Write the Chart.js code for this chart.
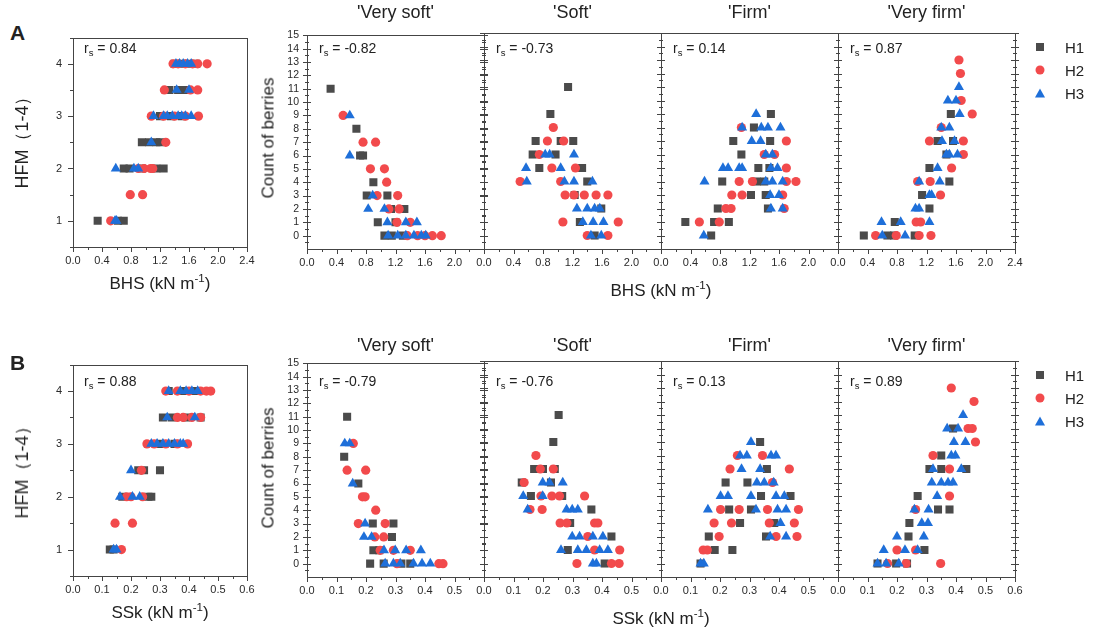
<!DOCTYPE html>
<html>
<head>
<meta charset="utf-8">
<script src="https://cdn.jsdelivr.net/npm/chart.js@4.4.1/dist/chart.umd.min.js"></script>
<style>
  body { margin: 0; background: #fff; }
  #fig { position: relative; width: 1100px; height: 632px; overflow: hidden;
         font-family: "Liberation Sans", Arial, sans-serif; color: #222; }
  .box { position: absolute; }
  .txt { position: absolute; white-space: nowrap; line-height: 1; }
  .txt sub { font-size: 0.68em; vertical-align: -0.3em; line-height: 0; }
  .txt sup { font-size: 0.68em; vertical-align: 0.55em; line-height: 0; }
  .mk { position: absolute; transform: translate(-50%, -50%); }
  .sq { width: 8px; height: 8px; background: #4b4b4b; }
  .ci { width: 9px; height: 9px; border-radius: 50%; background: #f24a4c; }
  .tr { width: 0; height: 0; border-left: 5px solid transparent; border-right: 5px solid transparent;
        border-bottom: 9px solid #1e6fd9; }
</style>
</head>
<body>
<div id="fig"></div>
<script>
// ---- axis ticks / labels ----
const bhsTicks = [0, 0.4, 0.8, 1.2, 1.6, 2.0, 2.4];
const sskTicks = [0, 0.1, 0.2, 0.3, 0.4, 0.5, 0.6];
const hfmTicks = [1, 2, 3, 4];
const countTicks = [0, 1, 2, 3, 4, 5, 6, 7, 8, 9, 10, 11, 12, 13, 14, 15];
const classNames = ["'Very soft'", "'Soft'", "'Firm'", "'Very firm'"];
const seriesNames = ['H1', 'H2', 'H3'];
const rsHfmBhs = '0.84';
const rsHfmSsk = '0.88';
const rsBhs = ['-0.82', '-0.73', '0.14', '0.87'];
const rsSsk = ['-0.79', '-0.76', '0.13', '0.89'];

// ---- HFM vs BHS ----
const hfmBhsH1 = [[0.34,1],[0.62,1],[0.7,1],[0.7,2],[0.78,2],[0.95,2],[1.15,2],[1.25,2],[0.95,2.5],[1.05,2.5],[1.15,2.5],[1.2,2.5],
  [1.2,3],[1.35,3],[1.5,3],[1.33,3.5],[1.45,3.5],[1.55,3.5],[1.4,4],[1.5,4],[1.6,4],[1.7,4]];
const hfmBhsH2 = [[0.52,1],[0.79,1.5],[0.96,1.5],[0.9,2],[0.98,2],[1.07,2],[1.1,2],[1.28,2.5],[1.08,3],[1.25,3],[1.4,3],[1.55,3],
  [1.73,3],[1.26,3.5],[1.62,3.5],[1.72,3.5],[1.38,4],[1.45,4],[1.55,4],[1.65,4],[1.72,4],[1.85,4]];
const hfmBhsH3 = [[0.58,1],[0.6,1],[0.59,2],[0.84,2],[0.9,2],[1.08,2.5],[1.11,3],[1.25,3],[1.3,3],[1.37,3],[1.45,3],[1.5,3],[1.55,3],
  [1.63,3],[1.43,3.5],[1.6,3.5],[1.42,4],[1.47,4],[1.52,4],[1.58,4],[1.63,4]];

// ---- count of berries vs BHS ----
const bhsVerySoftH1 = [[0.32,11],[0.67,8],[0.72,6],[0.76,6],[0.9,4],[0.81,3],[1.09,3],[1.14,2],[1.32,2],[0.96,1],[1.2,1],[1.05,0],[1.15,0],[1.3,0]];
const bhsVerySoftH2 = [[0.49,9],[0.76,7],[0.93,7],[0.86,5],[1.05,5],[1.08,4],[0.95,3],[1.23,3],[1.11,2],[1.25,2],[1.22,1],[1.4,1],
  [1.36,0],[1.5,0],[1.6,0],[1.7,0],[1.82,0]];
const bhsVerySoftH3 = [[0.58,9],[0.58,6],[0.89,3],[0.83,2],[1.05,2],[1.09,1],[1.34,1],[1.49,1],[1.1,0],[1.23,0],[1.34,0],[1.45,0],[1.55,0],[1.61,0]];

const bhsSoftH1 = [[1.14,11],[0.9,9],[0.7,7],[1.04,7],[1.21,7],[0.66,6],[0.97,6],[0.75,5],[1.33,5],[1.4,4],[1.23,3],[1.59,2],[1.3,1],[1.5,0]];
const bhsSoftH2 = [[0.94,8],[0.86,7],[1.08,7],[0.75,6],[0.92,5],[1.24,5],[0.49,4],[1.04,4],[1.1,3],[1.22,3],[1.36,3],[1.52,3],[1.68,3],
  [1.07,1],[1.82,1],[1.4,0],[1.68,0]];
const bhsSoftH3 = [[0.83,6],[0.89,6],[1.22,6],[0.57,5],[1.04,5],[0.58,4],[1.09,4],[1.22,4],[1.47,4],[1.26,2],[1.4,2],[1.5,2],[1.57,2],
  [1.34,1],[1.48,1],[1.62,1],[1.45,0],[1.59,0]];

const bhsFirmH1 = [[1.49,9],[1.26,8],[0.98,7],[1.48,7],[1.09,6],[1.32,5],[1.47,5],[0.83,4],[1.3,4],[1.4,4],[1.22,3],[1.42,3],[0.77,2],
  [1.45,2],[0.33,1],[0.72,1],[0.92,1],[0.68,0]];
const bhsFirmH2 = [[1.09,8],[1.7,7],[1.4,6],[1.54,6],[1.7,5],[1.06,4],[1.24,4],[1.7,4],[1.83,4],[0.96,3],[1.1,3],[1.65,3],[0.88,2],
  [0.95,2],[1.67,2],[0.52,1],[0.79,1]];
const bhsFirmH3 = [[1.29,9],[1.1,8],[1.36,8],[1.45,8],[1.62,8],[1.23,7],[1.35,7],[1.42,6],[1.51,6],[0.84,5],[0.91,5],[1.06,5],[1.1,5],
  [1.49,5],[1.58,5],[0.59,4],[1.42,4],[1.51,4],[1.65,4],[1.48,3],[1.6,3],[1.49,2],[1.65,2],[0.58,0]];

const bhsVeryFirmH1 = [[0.35,0],[0.67,0],[0.76,0],[1.04,0],[0.77,1],[1.24,2],[1.14,3],[1.51,4],[1.24,5],[1.47,6],[1.35,7],[1.56,7],[1.53,9]];
const bhsVeryFirmH2 = [[1.64,13],[1.66,12],[1.67,10],[1.82,9],[1.4,8],[1.24,7],[1.7,7],[1.7,6],[1.54,5],[1.08,4],[1.25,4],[1.39,3],
  [1.06,1],[1.12,1],[0.51,0],[0.79,0],[1.1,0],[1.26,0]];
const bhsVeryFirmH3 = [[1.64,11],[1.49,10],[1.6,10],[1.65,9],[1.4,8],[1.51,8],[1.41,7],[1.58,7],[1.47,6],[1.51,6],[1.62,6],[1.35,5],
  [1.1,4],[1.38,4],[1.24,3],[1.27,3],[1.05,2],[1.1,2],[0.59,1],[0.85,1],[1.24,1],[0.6,0],[0.91,0]];

// ---- HFM vs SSk ----
const hfmSskH1 = [[0.127,1],[0.14,1],[0.17,2],[0.26,2],[0.27,2],[0.225,2.5],[0.245,2.5],[0.3,2.5],[0.3,3],[0.35,3],[0.31,3.5],
  [0.34,3.5],[0.39,3.5],[0.44,3.5],[0.33,4],[0.38,4],[0.42,4]];
const hfmSskH2 = [[0.167,1],[0.145,1.5],[0.205,1.5],[0.185,2],[0.2,2],[0.24,2],[0.236,2.5],[0.255,3],[0.28,3],[0.32,3],[0.36,3],
  [0.395,3],[0.36,3.5],[0.38,3.5],[0.41,3.5],[0.44,3.5],[0.32,4],[0.36,4],[0.4,4],[0.44,4],[0.46,4],[0.475,4]];
const hfmSskH3 = [[0.14,1],[0.15,1],[0.162,2],[0.205,2],[0.23,2],[0.2,2.5],[0.27,3],[0.29,3],[0.31,3],[0.33,3],[0.35,3],[0.37,3],
  [0.38,3],[0.325,3.5],[0.42,3.5],[0.33,4],[0.37,4],[0.39,4],[0.41,4],[0.43,4]];

// ---- count of berries vs SSk ----
const sskVerySoftH1 = [[0.136,11],[0.126,8],[0.174,6],[0.223,3],[0.293,3],[0.288,2],[0.225,1],[0.245,1],[0.214,0],[0.26,0],[0.32,0],[0.35,0]];
const sskVerySoftH2 = [[0.157,9],[0.136,7],[0.199,7],[0.188,5],[0.197,5],[0.233,4],[0.174,3],[0.265,3],[0.23,2],[0.26,2],[0.248,1],
  [0.293,1],[0.35,1],[0.305,0],[0.447,0],[0.461,0]];
const sskVerySoftH3 = [[0.128,9],[0.145,9],[0.155,6],[0.197,3],[0.193,2],[0.219,2],[0.261,1],[0.299,1],[0.336,1],[0.386,1],[0.265,0],
  [0.293,0],[0.316,0],[0.361,0],[0.39,0],[0.418,0]];

const sskSoftH1 = [[0.253,11],[0.235,9],[0.17,7],[0.2,7],[0.24,7],[0.128,6],[0.227,6],[0.159,5],[0.265,5],[0.364,4],[0.292,3],
  [0.432,2],[0.284,1],[0.409,0]];
const sskSoftH2 = [[0.176,8],[0.191,7],[0.235,7],[0.136,6],[0.193,5],[0.23,5],[0.256,5],[0.341,5],[0.156,4],[0.197,4],[0.258,3],
  [0.281,3],[0.375,3],[0.386,3],[0.352,2],[0.375,1],[0.46,1],[0.315,0],[0.432,0],[0.458,0]];
const sskSoftH3 = [[0.199,6],[0.222,6],[0.267,6],[0.133,5],[0.199,5],[0.148,4],[0.28,4],[0.299,4],[0.318,4],[0.299,2],[0.324,2],
  [0.369,2],[0.403,2],[0.261,1],[0.318,1],[0.347,1],[0.392,1],[0.42,1],[0.369,0],[0.381,0]];

const sskFirmH1 = [[0.336,9],[0.359,7],[0.219,6],[0.293,6],[0.339,5],[0.439,5],[0.231,4],[0.305,4],[0.268,3],[0.384,3],[0.162,2],
  [0.356,2],[0.182,1],[0.242,1],[0.134,0]];
const sskFirmH2 = [[0.259,8],[0.344,8],[0.234,7],[0.435,7],[0.378,6],[0.202,4],[0.265,4],[0.361,4],[0.466,4],[0.18,3],[0.239,3],
  [0.367,3],[0.452,3],[0.197,2],[0.39,2],[0.461,2],[0.143,1],[0.157,1]];
const sskFirmH3 = [[0.305,9],[0.268,8],[0.291,8],[0.373,8],[0.39,8],[0.273,7],[0.336,7],[0.325,6],[0.35,6],[0.382,6],[0.202,5],
  [0.227,5],[0.305,5],[0.39,5],[0.418,5],[0.159,4],[0.322,4],[0.395,4],[0.424,4],[0.405,3],[0.37,2],[0.424,2],[0.134,0],[0.145,0]];

const sskVeryFirmH1 = [[0.39,10],[0.35,8],[0.31,7],[0.35,7],[0.435,7],[0.27,5],[0.339,4],[0.378,4],[0.242,3],[0.239,2],[0.293,1],
  [0.134,0],[0.197,0],[0.234,0]];
const sskVeryFirmH2 = [[0.384,13],[0.461,12],[0.441,10],[0.455,10],[0.466,9],[0.322,8],[0.378,7],[0.378,5],[0.263,4],[0.2,1],[0.263,1],
  [0.168,0],[0.231,0],[0.348,0]];
const sskVeryFirmH3 = [[0.424,11],[0.37,10],[0.407,10],[0.393,9],[0.432,9],[0.384,8],[0.398,8],[0.322,7],[0.418,7],[0.318,6],[0.35,6],
  [0.373,6],[0.39,6],[0.336,5],[0.259,4],[0.307,4],[0.284,3],[0.305,3],[0.2,2],[0.291,2],[0.155,1],[0.227,1],[0.27,1],[0.134,0],
  [0.163,0],[0.206,0]];

// ---- setup ----
const FONT = '"Liberation Sans", Arial, sans-serif';
Chart.defaults.font.family = FONT;
Chart.defaults.color = '#2a2a2a';

const fig = document.getElementById('fig');
const PAD = { l: 44, r: 16, t: 12, b: 40 };
const FRAME = '#444';

// frame around the plot area plus tick marks drawn off the scales
const frameTicks = {
  id: 'frameTicks',
  afterDraw(chart, args, o) {
    const { ctx, chartArea: a, scales } = chart;
    ctx.save();
    ctx.strokeStyle = FRAME;
    ctx.lineWidth = 1;
    ctx.beginPath();
    o.x.forEach(([v, len]) => {
      const px = Math.round(scales.x.getPixelForValue(v)) + 0.5;
      ctx.moveTo(px, a.bottom);
      ctx.lineTo(px, a.bottom + len);
    });
    o.y.forEach(([v, out, inn]) => {
      const py = Math.round(scales.y.getPixelForValue(v)) + 0.5;
      ctx.moveTo(a.left - out, py);
      ctx.lineTo(a.left + inn, py);
      if (o.both) {
        ctx.moveTo(a.right - inn, py);
        ctx.lineTo(a.right + out, py);
      }
    });
    ctx.stroke();
    ctx.strokeRect(Math.round(a.left) + 0.5, Math.round(a.top) + 0.5,
      Math.round(a.right - a.left), Math.round(a.bottom - a.top));
    ctx.restore();
  }
};

function marks(from, to, step, len) {
  const out = [];
  for (let i = 0; from + i * step <= to + 1e-9; i++) out.push([+(from + i * step).toFixed(4), len]);
  return out;
}

function toPts(arr) {
  return arr.map(([x, y]) => ({ x, y }));
}

function seriesSets(h1, h2, h3) {
  return [
    { label: 'H1', data: toPts(h1), pointStyle: 'rect', pointRadius: 5.7, backgroundColor: '#4b4b4b', borderWidth: 0, order: 3 },
    { label: 'H2', data: toPts(h2), pointStyle: 'circle', pointRadius: 4.6, backgroundColor: '#f24a4c', borderWidth: 0, order: 2 },
    { label: 'H3', data: toPts(h3), pointStyle: 'triangle', pointRadius: 5.8, backgroundColor: '#1e6fd9', borderWidth: 0, order: 1 }
  ];
}

function makePanel(rect, c) {
  const W = rect.w + PAD.l + PAD.r, H = rect.h + PAD.t + PAD.b;
  const wrap = document.createElement('div');
  wrap.className = 'box';
  wrap.style.left = (rect.x - PAD.l) + 'px';
  wrap.style.top = (rect.y - PAD.t) + 'px';
  wrap.style.width = W + 'px';
  wrap.style.height = H + 'px';
  const cv = document.createElement('canvas');
  cv.width = W;
  cv.height = H;
  wrap.appendChild(cv);
  fig.appendChild(wrap);

  return new Chart(cv, {
    type: 'scatter',
    data: { datasets: seriesSets(c.h1, c.h2, c.h3) },
    plugins: [frameTicks],
    options: {
      responsive: false,
      devicePixelRatio: 1,
      animation: false,
      events: [],
      layout: { padding: { top: PAD.t, right: PAD.r, left: 0, bottom: 0 } },
      plugins: {
        legend: { display: false },
        tooltip: { enabled: false },
        frameTicks: { x: c.xMarks, y: c.yMarks, both: c.both }
      },
      scales: {
        x: {
          min: c.xMin, max: c.xMax,
          grid: { display: false, drawTicks: false }, border: { display: false },
          afterBuildTicks: s => { s.ticks = c.xTicks.map(v => ({ value: v })); },
          afterFit: s => { s.height = PAD.b; },
          ticks: { autoSkip: false, maxRotation: 0, padding: 7, font: { size: 11 },
                   callback: v => v.toFixed(1) }
        },
        y: {
          min: c.yMin, max: c.yMax,
          grid: { display: false, drawTicks: false }, border: { display: false },
          afterBuildTicks: s => { s.ticks = c.yTicks.map(v => ({ value: v })); },
          afterFit: s => { s.width = PAD.l; },
          ticks: { display: c.yLabels, autoSkip: false, padding: c.yPad, font: { size: c.yFont },
                   callback: v => String(v) }
        }
      }
    }
  });
}

function addText(html, x, y, css, tf) {
  const d = document.createElement('div');
  d.className = 'txt';
  d.innerHTML = html;
  d.style.left = x + 'px';
  d.style.top = y + 'px';
  d.style.transform = tf || 'translate(-50%, -50%)';
  Object.assign(d.style, css);
  fig.appendChild(d);
}

function addLegend(y0) {
  const shapes = ['sq', 'ci', 'tr'];
  seriesNames.forEach((name, i) => {
    const y = y0 + i * 23;
    const m = document.createElement('div');
    m.className = 'mk ' + shapes[i];
    m.style.left = '1040px';
    m.style.top = y + 'px';
    fig.appendChild(m);
    addText(name, 1065, y, { fontSize: '15px' }, 'translate(0, -50%)');
  });
}

// ---- one row of the figure: HFM panel + four ripening-class panels ----
function buildRow(row) {
  const hfmMarksY = marks(1, 4, 1, 5).concat(marks(0.5, 4.5, 1, 3));
  makePanel({ x: 73, y: row.top, w: 174, h: row.leftH }, {
    h1: row.hfm[0], h2: row.hfm[1], h3: row.hfm[2],
    xMin: 0, xMax: row.xMax, xTicks: row.xTicks,
    yMin: 0.5, yMax: 4.5, yTicks: hfmTicks, yLabels: true, yPad: 11, yFont: 11,
    xMarks: marks(0, row.xMax, row.xStep, 5).concat(marks(row.xStep / 2, row.xMax, row.xStep, 3)),
    yMarks: hfmMarksY.map(([v, l]) => [v, l, 0]), both: false
  });

  const cntMarks = marks(0, 15, 1, 4).map(([v, l]) => [v, l, 4])
    .concat(marks(-0.5, 14.5, 1, 2).map(([v, l]) => [v, l, 2]));
  row.panels.forEach((p, i) => {
    const last = i === row.panels.length - 1;
    makePanel({ x: 307 + i * 177, y: row.wideTop, w: 177, h: 216 }, {
      h1: p[0], h2: p[1], h3: p[2],
      xMin: 0, xMax: row.xMax, xTicks: last ? row.xTicks : row.xTicks.slice(0, -1),
      yMin: -1, yMax: 15, yTicks: countTicks, yLabels: i === 0, yPad: 8, yFont: 10.5,
      xMarks: marks(0, row.xMax, row.xStep, 5).concat(marks(row.xStep / 2, row.xMax, row.xStep, 3)),
      yMarks: cntMarks, both: true
    });
    addText(classNames[i], 307 + i * 177 + 88.5, row.titleY, { fontSize: '18px' });
    addText('r<sub>s</sub> = ' + row.rs[i], 307 + i * 177 + 12, row.rsY, { fontSize: '14px' }, 'translate(0, -50%)');
  });

  addText(row.letter, 10, row.letterY, { fontSize: '21px', fontWeight: 'bold' }, 'none');
  addText('r<sub>s</sub> = ' + row.rsHfm, 84, row.rsY, { fontSize: '14px' }, 'translate(0, -50%)');
  addText('HFM（1-4）', 22, row.midY, { fontSize: '18px' }, 'translate(-50%, -50%) rotate(-90deg)');
  addText('Count of berries', 268, row.midY, { fontSize: '17px' }, 'translate(-50%, -50%) rotate(-90deg)');
  addText(row.xLabel + ' (kN m<sup>-1</sup>)', 160, row.leftTitleY, { fontSize: '17px' });
  addText(row.xLabel + ' (kN m<sup>-1</sup>)', 661, row.wideTitleY, { fontSize: '17px' });
  addLegend(row.legendY);
}

buildRow({
  letter: 'A', letterY: 22, top: 32, leftH: 215, wideTop: 33,
  xMax: 2.4, xStep: 0.4, xTicks: bhsTicks, xLabel: 'BHS',
  hfm: [hfmBhsH1, hfmBhsH2, hfmBhsH3], rsHfm: rsHfmBhs, rs: rsBhs,
  panels: [[bhsVerySoftH1, bhsVerySoftH2, bhsVerySoftH3], [bhsSoftH1, bhsSoftH2, bhsSoftH3],
           [bhsFirmH1, bhsFirmH2, bhsFirmH3], [bhsVeryFirmH1, bhsVeryFirmH2, bhsVeryFirmH3]],
  titleY: 12, rsY: 48, midY: 138, leftTitleY: 283, wideTitleY: 290, legendY: 47
});

buildRow({
  letter: 'B', letterY: 352, top: 359, leftH: 217, wideTop: 361,
  xMax: 0.6, xStep: 0.1, xTicks: sskTicks, xLabel: 'SSk',
  hfm: [hfmSskH1, hfmSskH2, hfmSskH3], rsHfm: rsHfmSsk, rs: rsSsk,
  panels: [[sskVerySoftH1, sskVerySoftH2, sskVerySoftH3], [sskSoftH1, sskSoftH2, sskSoftH3],
           [sskFirmH1, sskFirmH2, sskFirmH3], [sskVeryFirmH1, sskVeryFirmH2, sskVeryFirmH3]],
  titleY: 345, rsY: 381, midY: 468, leftTitleY: 612, wideTitleY: 618, legendY: 375
});
</script>
</body>
</html>
